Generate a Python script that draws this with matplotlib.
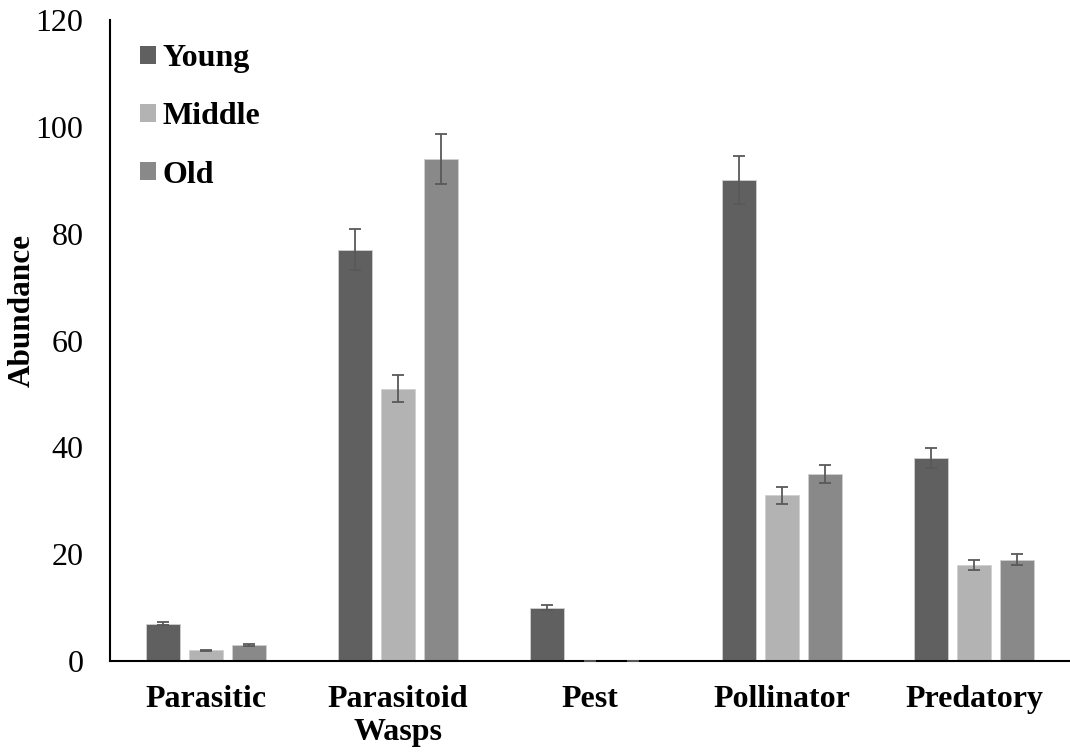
import numpy as np
import matplotlib
matplotlib.use("Agg")
import matplotlib.pyplot as plt
from matplotlib.patches import Patch

plt.rcParams['font.family'] = ['Liberation Serif', 'DejaVu Serif']

categories = ["Parasitic", "Parasitoid\nWasps", "Pest", "Pollinator", "Predatory"]
series_names = ["Young", "Middle", "Old"]
young = [7, 77, 10, 90, 38]
middle = [2, 51, 0, 31, 18]
old = [3, 94, 0, 35, 19]
# error bars are 5% of each value
err_frac = 0.05
colors = ["#606060", "#b3b3b3", "#898989"]

FS = 23

fig = plt.figure(figsize=(10.7, 7.55), dpi=100)
ax = fig.add_axes([0.1028, 0.1245, 0.8972, 0.849])

x = np.arange(len(categories))
step = 0.224
width = 0.175
for i, (vals, name, col) in enumerate(zip([young, middle, old], series_names, colors)):
    vals = np.array(vals, dtype=float)
    ax.bar(x + (i - 1) * step, vals, width, color=col, edgecolor="#d0d0d0",
           linewidth=0.6, label=name, zorder=2,
           yerr=vals * err_frac,
           error_kw=dict(ecolor="#595959", elinewidth=1.3, capsize=4.5, capthick=1.3, zorder=3))

ax.set_xlim(-0.5, len(categories) - 0.5)
ax.set_ylim(0, 120)
ax.set_yticks(np.arange(0, 121, 20))
ax.set_xticks(x)
ax.set_xticklabels(categories, fontsize=FS, fontweight="bold", linespacing=1.2)
ax.tick_params(axis="y", labelsize=FS, length=0, pad=19)
ax.tick_params(axis="x", length=0, pad=17)
for s in ["top", "right"]:
    ax.spines[s].set_visible(False)
ax.spines["left"].set_linewidth(1.5)
ax.spines["bottom"].set_linewidth(1.5)
fig.text(22 / 1070, 1 - 311 / 755, "Abundance", rotation=90, ha="center", va="center",
         fontsize=FS - 0.5, fontweight="bold")

handles = [Patch(facecolor=c, edgecolor="none") for c in colors]
leg = ax.legend(handles, series_names, loc="upper left", bbox_to_anchor=(0.031, 0.962),
                frameon=False, prop=dict(size=FS, weight="bold"),
                handlelength=0.5, handleheight=0.5, handletextpad=0.22,
                labelspacing=0.91, borderpad=0, borderaxespad=0)

fig.savefig("out.png", dpi=100)
